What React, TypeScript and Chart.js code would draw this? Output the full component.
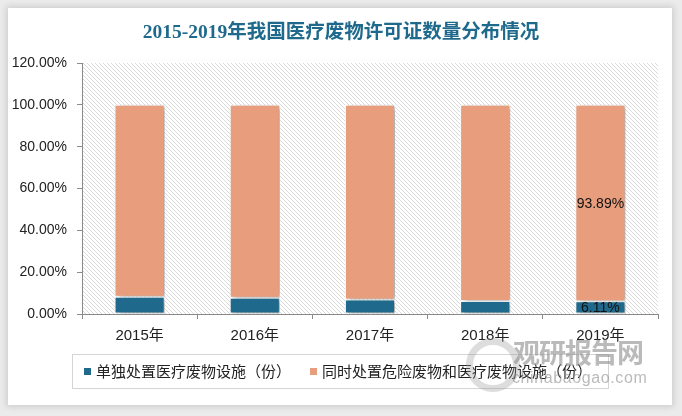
import React, { useEffect, useRef } from "react";
import { Chart, registerables } from "chart.js";

Chart.register(...registerables);

const titleText = "2015-2019年我国医疗废物许可证数量分布情况";
const categories = ["2015年", "2016年", "2017年", "2018年", "2019年"];
const singleValues = [8.3, 7.8, 6.9, 6.2, 6.11];
const jointValues = [91.7, 92.2, 93.1, 93.8, 93.89];
const seriesNames = ["单独处置医疗废物设施（份）", "同时处置危险废物和医疗废物设施（份）"];
const seriesColors = ["#1f6a8c", "#e89e7d"];
const yMin = 0;
const yMax = 120;
const yStep = 20;
const labelledIndex = 4;

const CJK = '"Noto Sans CJK SC", sans-serif';
const NUM = '"Liberation Sans", "Noto Sans CJK SC", sans-serif';
const TITLE_FONT = 'bold 19.5px "Liberation Serif", "Noto Sans CJK SC", serif';

const hatchPlugin = {
  id: "hatch",
  beforeDraw(chart: any) {
    const { ctx, chartArea } = chart;
    const tile = document.createElement("canvas");
    tile.width = 4;
    tile.height = 4;
    const t = tile.getContext("2d")!;
    t.fillStyle = "#ffffff";
    t.fillRect(0, 0, 4, 4);
    t.fillStyle = "#dadada";
    for (let i = 0; i < 4; i++) t.fillRect(i, i, 1, 1);
    const pattern = ctx.createPattern(tile, "repeat");
    ctx.save();
    ctx.fillStyle = pattern;
    ctx.fillRect(chartArea.left, chartArea.top, chartArea.right - chartArea.left, chartArea.bottom - chartArea.top);
    ctx.restore();
  },
};

const titlePlugin = {
  id: "centeredTitle",
  afterDraw(chart: any) {
    const ctx = chart.ctx;
    ctx.save();
    ctx.font = TITLE_FONT;
    ctx.fillStyle = "#1f6a8c";
    ctx.textAlign = "center";
    ctx.textBaseline = "middle";
    ctx.fillText(titleText, chart.width / 2, 33);
    ctx.restore();
  },
};

const shadowPlugin = {
  id: "barShadow",
  beforeDatasetsDraw(chart: any) {
    const ctx = chart.ctx;
    ctx.save();
    ctx.shadowColor = "rgba(0,0,0,0.38)";
    ctx.shadowBlur = 5;
    ctx.shadowOffsetX = 3;
    ctx.shadowOffsetY = 1;
  },
  afterDatasetsDraw(chart: any) {
    chart.ctx.restore();
  },
};

const valueLabelPlugin = {
  id: "valueLabels",
  afterDatasetsDraw(chart: any) {
    const ctx = chart.ctx;
    ctx.save();
    ctx.font = `14px ${NUM}`;
    ctx.fillStyle = "#111111";
    ctx.textAlign = "center";
    ctx.textBaseline = "middle";
    chart.data.datasets.forEach((ds: any, di: number) => {
      const meta = chart.getDatasetMeta(di);
      const el = meta.data[labelledIndex];
      if (!el) return;
      const p = el.getProps(["x", "y", "base"], true);
      const v = ds.data[labelledIndex];
      ctx.fillText(v.toFixed(2) + "%", p.x, (p.y + p.base) / 2 + 1);
    });
    ctx.restore();
  },
};

const legendPlugin = {
  id: "boxedLegend",
  afterDraw(chart: any) {
    const ctx = chart.ctx;
    const datasets = chart.data.datasets;
    ctx.save();
    ctx.font = `15px ${CJK}`;
    const box = 7;
    const gap = 5;
    const itemGap = 19;
    const widths = datasets.map((d: any) => box + gap + ctx.measureText(d.label).width);
    const total = widths.reduce((a: number, b: number) => a + b, 0) + itemGap * (datasets.length - 1);
    const cy = 371;
    let x = Math.round(chart.width / 2 - total / 2) - 3;
    const startX = x;
    ctx.strokeStyle = "#d4d4d4";
    ctx.lineWidth = 1;
    ctx.strokeRect(startX - 12 + 0.5, 354.5, total + 28, 34);
    ctx.textBaseline = "middle";
    ctx.textAlign = "left";
    datasets.forEach((d: any, i: number) => {
      ctx.fillStyle = d.backgroundColor;
      ctx.fillRect(x, cy - 3, box, box);
      ctx.fillStyle = "#222222";
      ctx.fillText(d.label, x + box + gap, cy);
      x += widths[i] + itemGap;
    });
    ctx.restore();
  },
};

export default function App() {
  const canvasRef = useRef<HTMLCanvasElement | null>(null);

  useEffect(() => {
    if (!canvasRef.current) return;
    const chart = new Chart(canvasRef.current, {
      type: "bar",
      data: {
        labels: categories,
        datasets: [
          {
            label: seriesNames[0],
            data: singleValues,
            backgroundColor: seriesColors[0],
            borderColor: "#ffffff",
            borderWidth: 1,
            borderSkipped: false,
            barPercentage: 0.435,
            categoryPercentage: 1,
          },
          {
            label: seriesNames[1],
            data: jointValues,
            backgroundColor: seriesColors[1],
            borderColor: "#ffffff",
            borderWidth: 1,
            borderSkipped: false,
            barPercentage: 0.435,
            categoryPercentage: 1,
          },
        ],
      },
      options: {
        responsive: false,
        animation: false,
        layout: { padding: { left: 0, right: 24, top: 63, bottom: 0 } },
        plugins: {
          legend: { display: false },
          tooltip: { enabled: false },
          title: { display: false },
        },
        scales: {
          x: {
            stacked: true,
            grid: { display: true, drawOnChartArea: false, drawTicks: true, tickLength: 5, color: "#8a8a8a", offset: true },
            border: { display: true, color: "#8a8a8a" },
            ticks: { color: "#222222", padding: 8, font: { family: NUM, size: 15 } },
            afterFit(scale: any) {
              scale.height = 102;
            },
          },
          y: {
            stacked: true,
            min: yMin,
            max: yMax,
            grid: { display: true, drawOnChartArea: false, drawTicks: true, tickLength: 5, color: "#8a8a8a" },
            border: { display: true, color: "#8a8a8a" },
            ticks: {
              stepSize: yStep,
              color: "#222222",
              padding: 10,
              font: { family: NUM, size: 14 },
              callback: (v: any) => Number(v).toFixed(2) + "%",
            },
            afterFit(scale: any) {
              scale.width = 82;
            },
          },
        },
      },
      plugins: [hatchPlugin, shadowPlugin, valueLabelPlugin, legendPlugin, titlePlugin],
    });
    return () => chart.destroy();
  }, []);

  return (
    <div style={{ position: "fixed", left: 0, top: 0, width: 682, height: 416, background: "#ebebeb", overflow: "hidden" }}>
      <div
        style={{
          position: "absolute",
          left: 8,
          top: 8,
          width: 664,
          height: 397,
          background: "#ffffff",
          boxShadow: "0 0 6px 2px rgba(0,0,0,0.12)",
        }}
      />
      <canvas ref={canvasRef} width={682} height={416} style={{ position: "absolute", left: 0, top: 0, width: 682, height: 416 }} />
      <div
        style={{
          position: "absolute",
          left: 466,
          top: 338,
          width: 40,
          height: 40,
          borderRadius: "50%",
          border: "7px solid rgba(150,150,150,0.32)",
          pointerEvents: "none",
        }}
      />
      <div
        style={{
          position: "absolute",
          left: 513,
          top: 337,
          fontFamily: CJK,
          fontWeight: "bold",
          fontSize: 27,
          lineHeight: "30px",
          color: "rgba(140,140,140,0.6)",
          letterSpacing: -1,
          whiteSpace: "nowrap",
          pointerEvents: "none",
        }}
      >
        观研报告网
      </div>
      <div
        style={{
          position: "absolute",
          left: 512,
          top: 368,
          fontFamily: '"Liberation Sans", sans-serif',
          fontSize: 16,
          lineHeight: "20px",
          color: "rgba(140,140,140,0.6)",
          letterSpacing: 0.6,
          whiteSpace: "nowrap",
          pointerEvents: "none",
        }}
      >
        chinabaogao.com
      </div>
    </div>
  );
}
